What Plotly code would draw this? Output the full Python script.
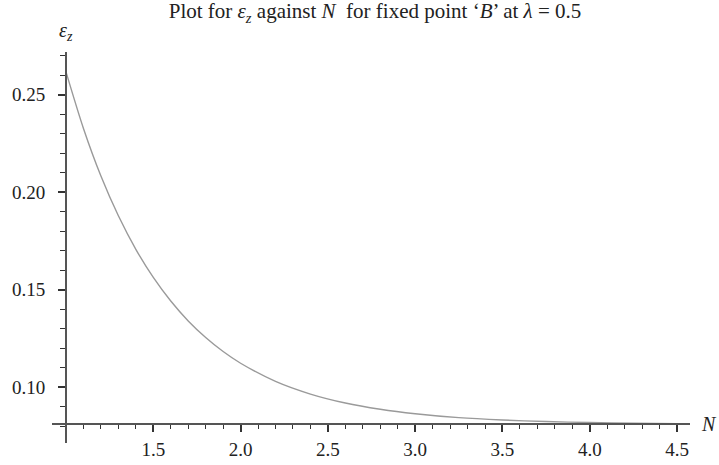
import plotly.graph_objects as go

# Data
N_values = [1.0, 1.1, 1.2, 1.3, 1.4, 1.5, 1.6, 1.7, 1.8, 1.9, 2.0, 2.2, 2.4,
            2.6, 2.8, 3.0, 3.25, 3.5, 3.75, 4.0, 4.25, 4.5]
eps_values = [0.2616, 0.2326, 0.2082, 0.1878, 0.1706, 0.1562, 0.1441, 0.1339, 0.1254,
              0.1182, 0.1122, 0.1029, 0.0964, 0.0918, 0.0886, 0.0863, 0.0843, 0.0831,
              0.0823, 0.0818, 0.0814, 0.0812]

x_major = [1.5, 2.0, 2.5, 3.0, 3.5, 4.0, 4.5]
x_major_labels = ["1.5", "2.0", "2.5", "3.0", "3.5", "4.0", "4.5"]
x_minor = [round(1.0 + 0.1 * i, 1) for i in range(1, 36)]
y_major = [0.10, 0.15, 0.20, 0.25]
y_major_labels = ["0.10", "0.15", "0.20", "0.25"]
y_minor = [round(0.08 + 0.01 * i, 2) for i in range(0, 20)]

x_range = [0.9198, 4.574]
y_range = [0.0713, 0.2718]
x_cross = 1.0      # y axis crosses x axis here
y_cross = 0.0809   # x axis crosses y axis here

font_family = "Liberation Serif, serif"
text_color = "#222222"
axis_color = "#555555"

fig = go.Figure()
fig.add_trace(go.Scatter(
    x=N_values, y=eps_values, mode="lines",
    line=dict(color="#9a9a9a", width=1.4, shape="spline", smoothing=0.8),
    hoverinfo="skip", showlegend=False,
))

xpos = (x_cross - x_range[0]) / (x_range[1] - x_range[0])
ypos = (y_cross - y_range[0]) / (y_range[1] - y_range[0])

fig.update_layout(
    width=719, height=465,
    margin=dict(l=52, r=29, t=52, b=22, autoexpand=False),
    paper_bgcolor="white", plot_bgcolor="white",
    font=dict(family=font_family, size=19, color=text_color),
    title=dict(
        text="Plot for <i>ε</i><sub><i>z</i></sub> against <i>N</i>  for fixed point ‘<i>B</i>’ at <i>λ</i> = 0.5",
        x=375 / 719, xanchor="center", y=1 - 11 / 465, yanchor="middle",
        font=dict(family=font_family, size=21, color=text_color),
    ),
    xaxis=dict(
        range=x_range, anchor="free", position=ypos, automargin=False,
        showgrid=False, zeroline=False,
        showline=True, linecolor=axis_color, linewidth=2,
        tickmode="array", tickvals=x_major, ticktext=x_major_labels,
        ticks="outside", ticklen=7, tickwidth=1.5, tickcolor="#333333",
        ticklabelstandoff=1,
        tickfont=dict(family=font_family, size=19, color=text_color),
        minor=dict(tickmode="array", tickvals=x_minor, ticks="outside",
                   ticklen=4, tickwidth=1.2, tickcolor="#333333", showgrid=False),
    ),
    yaxis=dict(
        range=y_range, anchor="free", position=xpos, automargin=False,
        showgrid=False, zeroline=False,
        showline=True, linecolor=axis_color, linewidth=2,
        tickmode="array", tickvals=y_major, ticktext=y_major_labels,
        ticks="outside", ticklen=7, tickwidth=1.5, tickcolor="#333333",
        ticklabelstandoff=9,
        tickfont=dict(family=font_family, size=19, color=text_color),
        minor=dict(tickmode="array", tickvals=y_minor, ticks="outside",
                   ticklen=5, tickwidth=1.2, tickcolor="#333333", showgrid=False),
    ),
    annotations=[
        dict(text="<i>ε</i><sub><i>z</i></sub>", xref="paper", yref="paper",
             x=xpos, y=1.0, xanchor="center", yanchor="bottom", showarrow=False,
             yshift=6, font=dict(family=font_family, size=20, color=text_color)),
        dict(text="<i>N</i>", xref="paper", yref="y",
             x=1.0, y=y_cross, xanchor="left", yanchor="middle", showarrow=False,
             xshift=9, font=dict(family=font_family, size=20, color=text_color)),
    ],
)

fig.write_html("out.html")
